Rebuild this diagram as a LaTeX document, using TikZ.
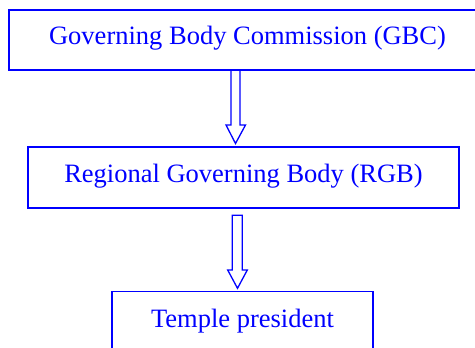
\documentclass[tikz,border=0pt]{standalone}
\usepackage{fontspec}
\setmainfont{Liberation Serif}
\usetikzlibrary{calc}
\definecolor{dblue}{RGB}{0,0,255}
\tikzset{
  orgtext/.style={text=dblue, font=\fontsize{26.5}{30}\selectfont,
    text height=20pt, text depth=10.5pt, inner sep=0pt},
  orgbox/.style={draw=dblue, line width=1.3pt, orgtext},
  hollowarrow/.style={draw=dblue, line width=1.3pt, line join=miter}
}
\begin{document}
\begin{tikzpicture}[x=1pt,y=-1pt]
\useasboundingbox (0,0) rectangle (475,348);
\node[orgbox, minimum width=468pt, minimum height=60pt,
  label={[orgtext, xshift=4.5pt]center:Governing Body Commission (GBC)}] (gbc) at (243,40) {};
\node[orgbox, minimum width=431pt, minimum height=61pt] (rgb) at (243.5,177.5) {Regional Governing Body (RGB)};
\node[orgbox, minimum width=261pt, minimum height=62pt] (tp) at (242.5,322.5) {Temple president};
% arrow 1
\draw[hollowarrow] (231,0 |- gbc.south) -- (231,125) -- (226,125) -- (235.5,143.5)
  -- (245.5,125) -- (240,125) -- (240,0 |- gbc.south);
% arrow 2
\draw[hollowarrow] ($(232.3,0 |- rgb.south)+(0,6.5)$) -- (232.3,270) -- (227.7,270) -- (237.5,288.3)
  -- (247.3,270) -- (242.3,270) -- ($(242.3,0 |- rgb.south)+(0,6.5)$) -- cycle;
\end{tikzpicture}
\end{document}
